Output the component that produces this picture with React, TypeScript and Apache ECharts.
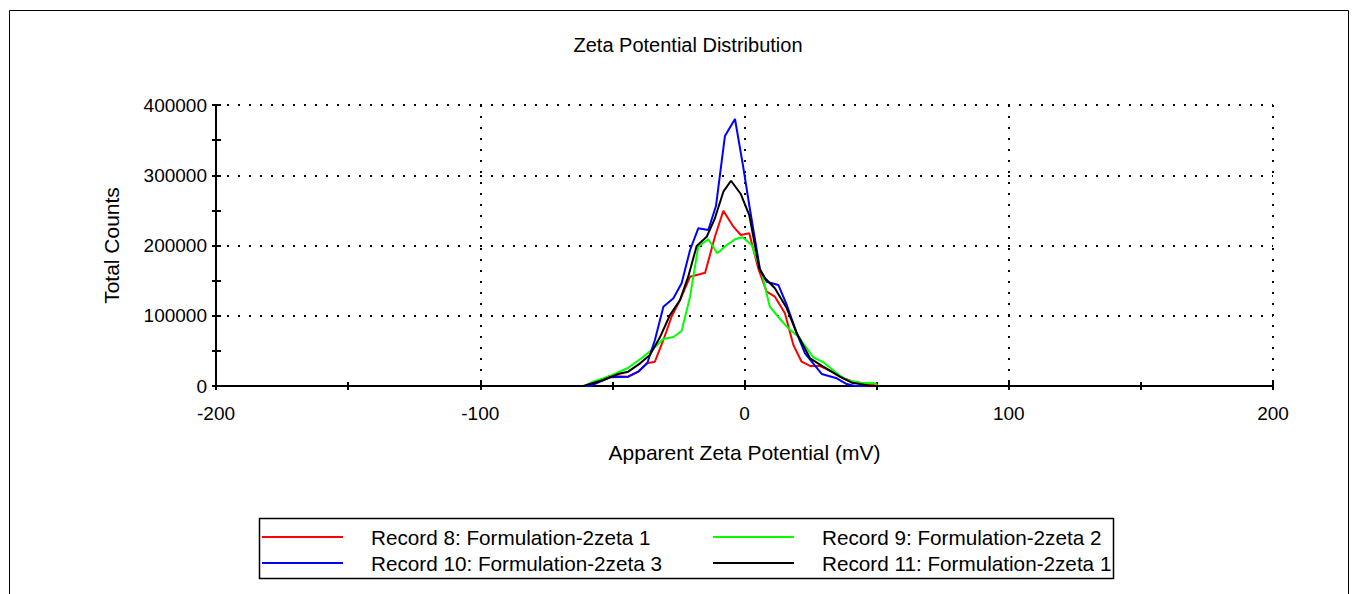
import React, { useEffect, useRef } from "react";
import * as echarts from "echarts";

const seriesNames = [
  "Record 8: Formulation-2zeta 1",
  "Record 9: Formulation-2zeta 2",
  "Record 10: Formulation-2zeta 3",
  "Record 11: Formulation-2zeta 1",
];
const seriesColors = ["#ff0000", "#00ff00", "#0000ff", "#000000"];

const redX = [-150, -59.7, -50.9, -44.0, -40.2, -37.0, -33.9, -30.7, -27.5, -24.4, -20.6, -14.9, -11.2, -8.0, -4.2, -1.4, 1.8, 5.2, 8.4, 11.5, 15.3, 18.5, 21.6, 24.8, 28.6, 33.0, 37.4, 41.2, 43.7, 47.5, 51, 150];
const redY = [0, 0, 14200, 13200, 20400, 32300, 34600, 65500, 99600, 122400, 155600, 161300, 212500, 249500, 226800, 214900, 217400, 167500, 134200, 127100, 103500, 58400, 34600, 28500, 28500, 20400, 11000, 6100, 4700, 2100, 0, 0];

const greenX = [-150, -60.4, -57.3, -50.9, -44.1, -38.9, -35.1, -30.7, -26.9, -23.8, -20.6, -17.5, -13.7, -10.3, -6.7, -3.6, -0.7, 2.7, 6.5, 9.6, 13.1, 16.6, 20.4, 26.0, 30.1, 34.9, 38.7, 43.7, 49.4, 50.5, 150];
const greenY = [0, 0, 6100, 14200, 25600, 39900, 51200, 66900, 69800, 78300, 127100, 198300, 208800, 188900, 200700, 208800, 211700, 200700, 160400, 112900, 96800, 82100, 70200, 40900, 33200, 18100, 8500, 4700, 4000, 0, 0];

const blueX = [-150, -58.5, -50.9, -44.0, -40.2, -36.8, -33.9, -30.7, -26.9, -23.8, -20.6, -17.5, -13.7, -10.8, -7.4, -3.6, -0.5, 2.1, 5.9, 8.4, 12.8, 16.0, 19.8, 22.9, 29.2, 34.9, 38.7, 41.8, 150];
const blueY = [0, 0, 12400, 13200, 20400, 32300, 65500, 112900, 124800, 146200, 193600, 224500, 222100, 256200, 355900, 380100, 312200, 250500, 165100, 148500, 143800, 115300, 75000, 46500, 17100, 11000, 2800, 0, 0];

const blackX = [-150, -61.0, -53.4, -47.8, -44.0, -39.5, -35.8, -32.0, -28.2, -24.4, -21.3, -18.1, -14.3, -11.2, -8.0, -5.1, -1.4, 1.8, 5.6, 7.8, 11.5, 16.0, 19.8, 24.8, 29.8, 36.1, 40.6, 43.7, 47.5, 150];
const blackY = [0, 0, 8500, 17100, 20400, 32300, 44100, 69300, 101100, 122400, 155600, 199300, 212500, 238700, 276600, 292200, 273300, 243400, 167500, 153300, 139100, 110600, 75000, 39400, 27500, 13200, 4700, 2800, 0, 0];

const allX = [redX, greenX, blueX, blackX];
const allY = [redY, greenY, blueY, blackY];

const FONT = "'Liberation Sans', Arial, sans-serif";
const FS = 19;

export default function App() {
  const ref = useRef<HTMLDivElement>(null);
  useEffect(() => {
    document.body.style.margin = "0";
    if (!ref.current) return;
    const chart = echarts.init(ref.current, undefined, { renderer: "svg" });
    const gridStyle = { type: [2, 9] as any, color: "#000", width: 2 };
    const legendPos = [
      { left: 262, top: 526.5 },
      { left: 713, top: 526.5 },
      { left: 262, top: 552.5 },
      { left: 713, top: 552.5 },
    ];
    chart.setOption({
      animation: false,
      backgroundColor: "#fff",
      title: {
        text: "Zeta Potential Distribution",
        left: 683,
        top: 30,
        textAlign: "center",
        textStyle: { fontFamily: FONT, fontSize: 20, fontWeight: "normal", color: "#000" },
      },
      legend: seriesNames.map((n, i) => ({
        data: [n],
        left: legendPos[i].left,
        top: legendPos[i].top,
        padding: 0,
        icon: "rect",
        itemWidth: 81,
        itemHeight: 2,
        selectedMode: false,
        textStyle: { fontFamily: FONT, fontSize: 20.7, color: "#000", padding: [0, 0, 0, 23] },
      })),
      grid: { left: 216, right: 84, top: 105, bottom: 208 },
      xAxis: [
        {
          type: "value",
          min: -200,
          max: 200,
          interval: 100,
          name: "Apparent Zeta Potential (mV)",
          nameLocation: "middle",
          nameGap: 56,
          nameTextStyle: { fontFamily: FONT, fontSize: 21, color: "#000" },
          axisLine: { show: true, onZero: false, lineStyle: { color: "#000", width: 2 } },
          axisTick: { show: true, length: 4, lineStyle: { color: "#000", width: 2 } },
          minorTick: { show: true, splitNumber: 2, length: 4, lineStyle: { color: "#000", width: 2 } },
          axisLabel: { margin: 18, fontFamily: FONT, fontSize: FS, color: "#000" },
          splitLine: { show: true, lineStyle: gridStyle },
        },
        {
          type: "value",
          position: "bottom",
          min: -200,
          max: 200,
          interval: 100,
          axisLine: { show: false, onZero: false },
          axisTick: { show: true, inside: true, length: 4, lineStyle: { color: "#000", width: 2 } },
          minorTick: { show: true, splitNumber: 2, length: 4, lineStyle: { color: "#000", width: 2 } },
          axisLabel: { show: false },
          splitLine: { show: false },
        },
      ],
      yAxis: [
        {
          type: "value",
          min: 0,
          max: 400000,
          interval: 100000,
          name: "Total Counts",
          nameLocation: "middle",
          nameGap: 94,
          nameTextStyle: { fontFamily: FONT, fontSize: 21, color: "#000" },
          axisLine: { show: true, onZero: false, lineStyle: { color: "#000", width: 2 } },
          axisTick: { show: true, length: 4, lineStyle: { color: "#000", width: 2 } },
          minorTick: { show: true, splitNumber: 2, length: 4, lineStyle: { color: "#000", width: 2 } },
          axisLabel: {
            margin: 9,
            fontFamily: FONT,
            fontSize: FS,
            color: "#000",
            formatter: (v: number) => String(v),
          },
          splitLine: { show: true, lineStyle: gridStyle },
        },
        {
          type: "value",
          position: "left",
          min: 0,
          max: 400000,
          interval: 100000,
          axisLine: { show: false, onZero: false },
          axisTick: { show: true, inside: true, length: 5, lineStyle: { color: "#000", width: 2 } },
          minorTick: { show: true, splitNumber: 2, length: 5, lineStyle: { color: "#000", width: 2 } },
          axisLabel: { show: false },
          splitLine: { show: false },
        },
      ],
      graphic: [
        {
          type: "rect",
          shape: { x: 9.5, y: 10.5, width: 1339, height: 620 },
          style: { fill: "none", stroke: "#000", lineWidth: 1 },
          silent: true,
          z: -1,
        },
        {
          type: "rect",
          shape: { x: 259.5, y: 518.5, width: 854, height: 60 },
          style: { fill: "none", stroke: "#000", lineWidth: 1.5 },
          silent: true,
          z: -1,
        },
      ],
      series: seriesNames.map((n, i) => ({
        name: n,
        type: "line",
        xAxisIndex: 0,
        yAxisIndex: 0,
        symbol: "none",
        showSymbol: false,
        color: seriesColors[i],
        lineStyle: { color: seriesColors[i], width: 2 },
        data: allX[i].map((x, k) => [x, allY[i][k]]),
        z: 3 + i,
      })),
    });
    return () => chart.dispose();
  }, []);
  return <div ref={ref} style={{ width: 1357, height: 594 }} />;
}
